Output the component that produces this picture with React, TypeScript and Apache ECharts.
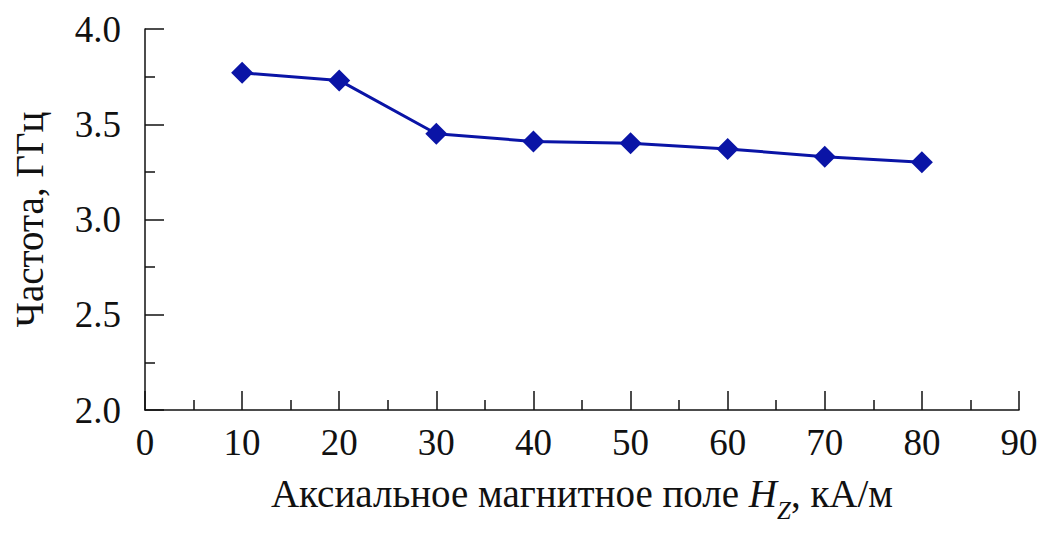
import React, { useEffect, useRef } from "react";
import * as echarts from "echarts";

const fieldKAm = [10, 20, 30, 40, 50, 60, 70, 80];
const freqGHz = [3.77, 3.73, 3.45, 3.41, 3.4, 3.37, 3.33, 3.3];
const xTitle = "{n|Аксиальное магнитное поле }{i|H}{sub|Z}{n|, кА/м}";
const yTitle = "Частота, ГГц";

const FONT = "'Liberation Serif', 'Times New Roman', serif";
const COLOR = "#0a14a6";
const TICK_FS = 37;
const TITLE_FS = 39;

export default function App() {
  const ref = useRef<HTMLDivElement>(null);
  useEffect(() => {
    if (!ref.current) return;
    const chart = echarts.init(ref.current, undefined, { renderer: "svg" });
    const axisCommon = {
      axisLine: { show: true, lineStyle: { color: "#111", width: 1.5 } },
      axisTick: { show: true, inside: true, length: 19, lineStyle: { color: "#111", width: 1.5 } },
      minorTick: { show: true, splitNumber: 2, length: 10, lineStyle: { color: "#111", width: 1.5 } },
      splitLine: { show: false },
      minorSplitLine: { show: false },
    };
    chart.setOption({
      animation: false,
      backgroundColor: "#fff",
      grid: { left: 145, right: 28, top: 29, bottom: 129, outerBoundsMode: "none", containLabel: false },
      xAxis: {
        type: "value",
        min: 0,
        max: 90,
        interval: 10,
        ...axisCommon,
        axisLabel: { fontFamily: FONT, fontSize: TICK_FS, color: "#111", margin: 14 },
        name: xTitle,
        nameLocation: "middle",
        nameGap: 64,
        nameTextStyle: {
          fontFamily: FONT,
          fontSize: TITLE_FS,
          color: "#111",
          rich: {
            n: { fontFamily: FONT, fontSize: TITLE_FS, color: "#111", verticalAlign: "bottom", padding: [0, 0, 10, 0] },
            i: { fontFamily: FONT, fontSize: TITLE_FS, fontStyle: "italic", color: "#111", verticalAlign: "bottom", padding: [0, 0, 10, 0] },
            sub: { fontFamily: FONT, fontSize: 25, fontStyle: "italic", color: "#111", verticalAlign: "bottom" },
          },
        },
      },
      yAxis: {
        type: "value",
        min: 2,
        max: 4,
        interval: 0.5,
        ...axisCommon,
        axisLabel: {
          fontFamily: FONT,
          fontSize: TICK_FS,
          color: "#111",
          margin: 24,
          formatter: (v: number) => v.toFixed(1),
        },
        name: yTitle,
        nameLocation: "middle",
        nameGap: 96,
        nameRotate: 90,
        nameTextStyle: { fontFamily: FONT, fontSize: TITLE_FS, color: "#111" },
      },
      series: [
        {
          type: "line",
          data: fieldKAm.map((x, i) => [x, freqGHz[i]]),
          symbol: "diamond",
          symbolSize: 22,
          lineStyle: { color: COLOR, width: 3 },
          itemStyle: { color: COLOR },
        },
      ],
    });
    return () => chart.dispose();
  }, []);
  return (
    <div
      ref={ref}
      style={{ position: "fixed", left: 0, top: 0, width: 1047, height: 539, background: "#fff" }}
    />
  );
}
